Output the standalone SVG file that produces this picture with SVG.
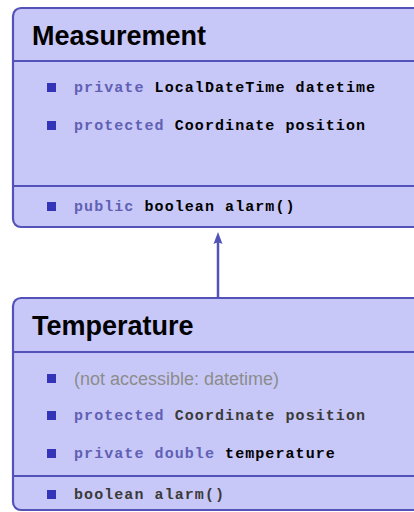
<svg xmlns="http://www.w3.org/2000/svg" width="414" height="512" viewBox="0 0 414 512">
<defs>
<style>
.box{fill:#c8c8f8;stroke:#5252b8;stroke-width:2.2}
.sep{stroke:#5252b8;stroke-width:2.2}
.title{font-family:"Liberation Sans",Arial,sans-serif;font-weight:bold;font-size:27px;fill:#000}
.mono{font-family:"Liberation Mono","Courier New",monospace;font-weight:bold;font-size:15px;letter-spacing:1.07px;fill:#000}
.kw{fill:#6060b4}
.inh{fill:#3a3a3a}
.gray{font-family:"Liberation Sans",Arial,sans-serif;font-size:18px;fill:#8c8c8c}
.bul{fill:#3434b8}
.conn{stroke:#5252b8;stroke-width:2.5;fill:none}
</style>
<marker id="arr" markerWidth="12" markerHeight="18" refX="8" refY="6" orient="auto" markerUnits="userSpaceOnUse" viewBox="0 0 16 12">
<path d="M16,6 L0,0 Q4,6 0,12 Z" fill="#5252b8"/>
</marker>
</defs>
<g id="connectors">
<line class="conn" x1="218" y1="297" x2="218" y2="238" marker-end="url(#arr)"/>
</g>
<g id="Measurement">
<rect class="box" x="13" y="8" width="420" height="219" rx="8"/>
<line class="sep" x1="13" y1="61" x2="420" y2="61"/>
<line class="sep" x1="13" y1="186" x2="420" y2="186"/>
<text class="title" x="32" y="45">Measurement</text>
<rect class="bul" x="47" y="83" width="9" height="9"/>
<text class="mono" x="74" y="92"><tspan class="kw">private</tspan> LocalDateTime datetime</text>
<rect class="bul" x="47" y="121" width="9" height="9"/>
<text class="mono" x="74" y="130"><tspan class="kw">protected</tspan> Coordinate position</text>
<rect class="bul" x="47" y="202" width="9" height="9"/>
<text class="mono" x="74" y="211"><tspan class="kw">public</tspan> boolean alarm()</text>
</g>
<g id="Temperature">
<rect class="box" x="13" y="298" width="420" height="212" rx="8"/>
<line class="sep" x1="13" y1="352" x2="420" y2="352"/>
<line class="sep" x1="13" y1="476" x2="420" y2="476"/>
<text class="title" x="32" y="335">Temperature</text>
<rect class="bul" x="47" y="374" width="9" height="9"/>
<text class="gray" x="74" y="385">(not accessible: datetime)</text>
<rect class="bul" x="47" y="411" width="9" height="9"/>
<text class="mono inh" x="74" y="420"><tspan class="kw">protected</tspan> Coordinate position</text>
<rect class="bul" x="47" y="449" width="9" height="9"/>
<text class="mono" x="74" y="458"><tspan class="kw">private double</tspan> temperature</text>
<rect class="bul" x="47" y="490" width="9" height="9"/>
<text class="mono inh" x="74" y="499">boolean alarm()</text>
</g>
</svg>
